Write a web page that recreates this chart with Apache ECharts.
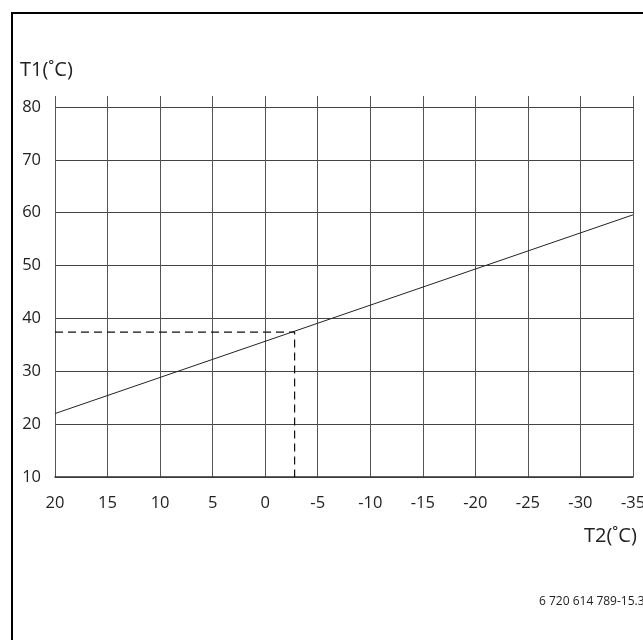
<!DOCTYPE html>
<html>
<head>
<meta charset="utf-8">
<script src="https://cdn.jsdelivr.net/npm/echarts@6/dist/echarts.min.js"></script>
<style>
  html, body { margin: 0; padding: 0; background: #fff; }
  #main-chart { width: 643px; height: 640px; }
</style>
</head>
<body>
<div id="main-chart"></div>
<script>
// outdoor temperature T2 (x) and flow temperature T1 (y)
const xTicks = [-35, 20];
const yTicks = [10, 80];
const heatingCurve = [[20, 22], [-35, 59.6]];
const examplePoint = [[20, 37.4], [-2.8, 37.4], [-2.8, 10]];
const axisNameX = 'T2(˚C)';
const axisNameY = 'T1(˚C)';
const docNumber = '6 720 614 789-15.3';

document.addEventListener("DOMContentLoaded", () => {
    const myChart = echarts.init(document.getElementById('main-chart'));
    const font = '"Open Sans", "Noto Sans", sans-serif';
    const textColor = '#222';

    const option = {
        animation: false,
        grid: [
            // taller grid only for the vertical lines that run above 80
            { left: 55, right: 10, top: 96, bottom: 163, outerBoundsMode: 'none' },
            { left: 55, right: 10, top: 107, bottom: 163, outerBoundsMode: 'none' }
        ],
        xAxis: [
            {
                gridIndex: 0, type: 'value', inverse: true,
                min: xTicks[0], max: xTicks[1], interval: 5,
                axisLine: { show: false }, axisTick: { show: false }, axisLabel: { show: false },
                splitLine: { show: true, lineStyle: { color: '#555', width: 1 } }
            },
            {
                gridIndex: 1, type: 'value', inverse: true,
                min: xTicks[0], max: xTicks[1], interval: 5,
                axisLine: { show: true, onZero: false, lineStyle: { color: '#333', width: 1.5 } },
                axisTick: { show: false },
                axisLabel: { color: textColor, fontFamily: font, fontSize: 16.5, margin: 18 },
                splitLine: { show: false }
            }
        ],
        yAxis: [
            { gridIndex: 0, type: 'value', min: 0, max: 1, show: false },
            {
                gridIndex: 1, type: 'value',
                min: yTicks[0], max: yTicks[1], interval: 10,
                axisLine: { show: false },
                axisTick: { show: false },
                axisLabel: { color: textColor, fontFamily: font, fontSize: 16.5, margin: 14, align: 'right' },
                splitLine: { show: true, lineStyle: { color: '#444', width: 1 } }
            }
        ],
        series: [
            {
                type: 'line', xAxisIndex: 1, yAxisIndex: 1,
                data: heatingCurve, symbol: 'none',
                lineStyle: { color: '#222', width: 1 }
            },
            {
                type: 'line', xAxisIndex: 1, yAxisIndex: 1,
                data: examplePoint, symbol: 'none',
                lineStyle: { color: '#111', width: 1.2, type: [8, 5] }
            }
        ],
        graphic: [
            {
                type: 'polyline', silent: true,
                shape: { points: [[12, 640], [12, 13], [643, 13]] },
                style: { stroke: '#000', lineWidth: 2, fill: null }
            },
            {
                type: 'text', left: 20, top: 60,
                style: { text: axisNameY, fill: textColor, font: '20px ' + font }
            },
            {
                type: 'text', left: 584, top: 526,
                style: { text: axisNameX, fill: textColor, font: '20px ' + font }
            },
            {
                type: 'text', left: 539, top: 596,
                style: { text: docNumber, fill: textColor, font: '12px ' + font }
            }
        ]
    };
    myChart.setOption(option);
});
</script>
</body>
</html>
